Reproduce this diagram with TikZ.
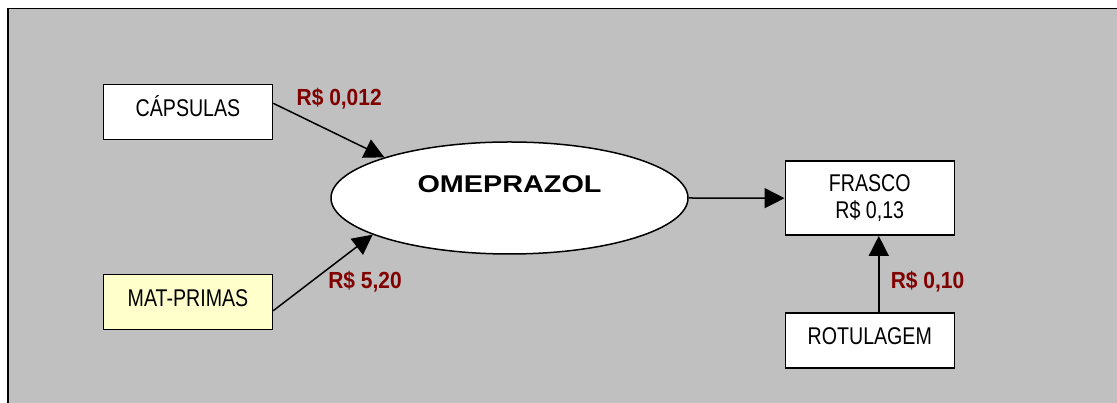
\documentclass[tikz,border=0pt]{standalone}
\usepackage{fontspec}
\setmainfont{Liberation Sans}
\newfontfamily\boxfont{Liberation Sans}[FakeStretch=0.81]
\newfontfamily\pricefont{Liberation Sans}[FakeStretch=0.9]
\newfontfamily\titlefont{Liberation Sans}[FakeStretch=1.19]
\usetikzlibrary{arrows.meta,shapes.geometric}
\definecolor{panelgray}{RGB}{192,192,192}
\definecolor{paleyellow}{RGB}{255,255,204}
\definecolor{pricered}{RGB}{128,0,0}
\tikzset{
  stagebox/.style={draw=black, line width=1.5pt, fill=white, inner sep=0pt,
    minimum width=169pt, minimum height=55pt,
    font=\boxfont\fontsize{24.2pt}{27.7pt}\selectfont,
    text height=17.3pt, text depth=8pt},
  stagebox2/.style={draw=black, line width=1.5pt, fill=white, inner sep=0pt,
    minimum width=169pt, minimum height=74pt, align=center,
    font=\boxfont\fontsize{24.2pt}{27.7pt}\selectfont},
  product/.style={ellipse, draw=black, line width=1.5pt, fill=white, inner sep=0pt,
    minimum width=357pt, minimum height=112pt,
    font=\titlefont\bfseries\fontsize{24.2pt}{28pt}\selectfont,
    text height=17.3pt, text depth=28.6pt},
  price/.style={text=pricered, inner sep=0pt,
    font=\pricefont\bfseries\fontsize{23.3pt}{26pt}\selectfont,
    text height=16.7pt, text depth=0pt},
  flow/.style={draw=black, line width=1.5pt, -{Triangle[length=20pt,width=20pt]}}
}
\begin{document}
\begin{tikzpicture}[x=1pt,y=1pt]
  \useasboundingbox (0,0) rectangle (1117,403);
  \clip (0,0) rectangle (1117,403);
  \fill[white] (0,0) rectangle (1117,403);
  % panel background, running off the right and bottom edges
  \filldraw[fill=panelgray, draw=black, line width=1.7pt] (8,-30) rectangle (1150,394.5);

  % nodes
  \node[stagebox] (cap) at (188,290.8) {CÁPSULAS};
  \node[stagebox, fill=paleyellow] (mat) at (188,100.8) {MAT-PRIMAS};
  \node[product] (ome) at (509.5,205) {OMEPRAZOL};
  \node[stagebox2] (fra) at (869.8,204.8) {FRASCO\\R\$ 0,13};
  \node[stagebox] (rot) at (869.8,62.7) {ROTULAGEM};

  % cost labels
  \node[price] (p1) at (339.2,306.3) {R\$ 0,012};
  \node[price] (p2) at (365,123) {R\$ 5,20};
  \node[price] (p3) at (927.5,122.7) {R\$ 0,10};

  % connectors
  \draw[flow] ([yshift=8.9pt]cap.east) -- (ome.162.9);
  \draw[flow] ([yshift=-8.5pt]mat.east) -- (ome.195.3);
  \draw[flow] (ome.east) -- (fra.west);
  \draw[flow] ([xshift=9pt]rot.north) -- ([xshift=9pt]rot.north |- fra.south);
\end{tikzpicture}
\end{document}
